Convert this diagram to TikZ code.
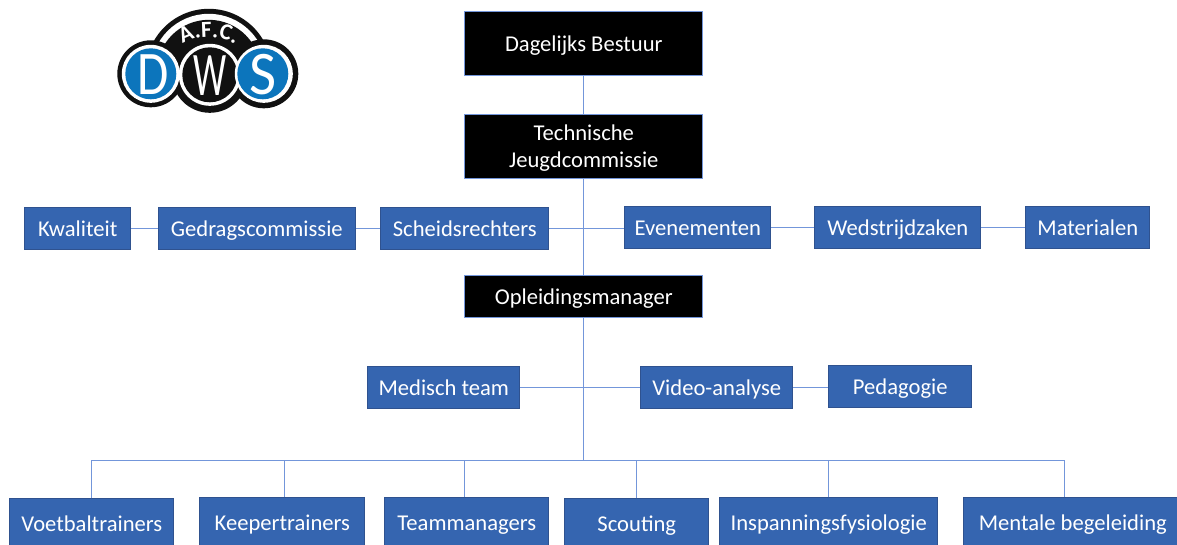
\documentclass[tikz,border=0pt]{standalone}
\usepackage{fontspec}
\setmainfont{Carlito}
\usetikzlibrary{decorations.text}
\definecolor{box-blue}{HTML}{3565B0}
\definecolor{box-edge}{HTML}{2F528F}
\definecolor{link-blue}{HTML}{7396DA}
\definecolor{logo-blue}{HTML}{0C75BC}
\definecolor{logo-black}{HTML}{111111}
\tikzset{
  bluebox/.style={draw=box-edge, line width=1pt, fill=box-blue, text=white, inner sep=0pt, text height=17.5pt, text depth=2.5pt, font=\fontsize{22.6pt}{27pt}\selectfont},
  blackbox/.style={draw=link-blue, line width=1pt, fill=black, text=white, inner sep=0pt, align=center, text height=17.5pt, text depth=2.5pt, font=\fontsize{22.6pt}{27pt}\selectfont},
  link/.style={draw=link-blue, line width=1pt},
  letter/.style={text=white, inner sep=0pt, font=\fontsize{62pt}{62pt}\selectfont}
}

\begin{document}
\begin{tikzpicture}[x=1pt, y=-1pt]
    \useasboundingbox[clip] (0.2, 0.2) rectangle (1177.2, 544.2);

    % logo
    \begin{scope}
      \clip (100, 0) rectangle (320, 72);
      \fill[logo-black] (209, 72) circle (63);
      \fill[white] (209, 72) circle (58);
      \fill[logo-black] (209, 72) circle (52);
    \end{scope}
    \fill[logo-black] (151, 74) circle (33.5);
    \fill[logo-black] (264, 74) circle (34.5);
    \fill[logo-black] (210, 75) circle (38);
    \fill[white] (210, 75) circle (31);
    \fill[logo-black] (210, 75) circle (27.5);
    \fill[white] (151, 74) circle (29);
    \fill[white] (264, 74) circle (29);
    \fill[logo-blue] (151, 74) circle (25.5);
    \fill[logo-blue] (263, 74) circle (25.5);
    \node[letter, xscale=.82] (logoD) at (153, 75) {D};
    \node[letter, xscale=.6] (logoW) at (210, 76) {W};
    \node[letter, xscale=.95] (logoS) at (263, 75) {S};
    \path[postaction={decorate}, decoration={text along path, text align=center,
      text={|\fontsize{23pt}{23pt}\selectfont\bfseries\color{white}|A.F.C.}}]
      (176, 51) .. controls (190, 33) and (228, 33) .. (242, 51);

    % top of the tree
    \node[blackbox, minimum width=238pt, minimum height=64pt] (bestuur) at (584, 44) {Dagelijks Bestuur};
    \node[blackbox, minimum width=238pt, minimum height=64pt, text height=44pt, text depth=2pt] (jeugd) at (584, 147) {Technische\\Jeugdcommissie};
    \node[blackbox, minimum width=238pt, minimum height=42pt] (manager) at (584, 297) {Opleidingsmanager};

    % commissions
    \node[bluebox, minimum width=106pt, minimum height=42pt] (kwaliteit) at (78, 229) {Kwaliteit};
    \node[bluebox, minimum width=197pt, minimum height=42pt] (gedrag) at (257, 229) {Gedragscommissie};
    \node[bluebox, minimum width=168pt, minimum height=42pt] (scheids) at (465, 229) {Scheidsrechters};
    \node[bluebox, minimum width=146pt, minimum height=42pt] (evenement) at (698, 228) {Evenementen};
    \node[bluebox, minimum width=166pt, minimum height=42pt] (wedstrijd) at (898, 228) {Wedstrijdzaken};
    \node[bluebox, minimum width=124pt, minimum height=42pt] (material) at (1088, 228) {Materialen};

    % support
    \node[bluebox, minimum width=152pt, minimum height=42pt] (medisch) at (444, 388) {Medisch team};
    \node[bluebox, minimum width=152pt, minimum height=42pt] (video) at (717, 388) {Video-analyse};
    \node[bluebox, minimum width=143pt, minimum height=42pt] (pedagogie) at (900.5, 387) {Pedagogie};

    % bottom row, runs off the page
    \node[bluebox, minimum width=164pt, minimum height=50pt] (voetbal) at (92, 524) {Voetbaltrainers};
    \node[bluebox, minimum width=165pt, minimum height=50pt] (keeper) at (282.5, 523) {Keepertrainers};
    \node[bluebox, minimum width=164pt, minimum height=50pt] (team) at (467, 523) {Teammanagers};
    \node[bluebox, minimum width=144pt, minimum height=50pt] (scouting) at (637, 524) {Scouting\hspace{5pt}};
    \node[bluebox, minimum width=218pt, minimum height=50pt] (fysio) at (829, 523) {Inspanningsfysiologie};
    \node[bluebox, minimum width=218pt, minimum height=50pt] (mentaal) at (1073, 523) {Mentale begeleiding};

    \coordinate (trunk) at (584, 461);
    \coordinate (busV) at (92, 461);
    \coordinate (busK) at (285, 461);
    \coordinate (busT) at (465, 461);
    \coordinate (busM) at (1065, 461);

    % connectors
    \draw[link] (bestuur) -- (jeugd);
    \draw[link] (jeugd) -- (manager);
    \draw[link] (manager) -- (trunk);
    \draw[link] (kwaliteit) -- (gedrag);
    \draw[link] (gedrag) -- (scheids);
    \draw[link] (scheids.east) -- (scheids.east -| evenement.west);
    \draw[link] (evenement) -- (wedstrijd);
    \draw[link] (wedstrijd) -- (material);
    \draw[link] (medisch) -- (video);
    \draw[link] (video.east) -- (video.east -| pedagogie.west);
    \draw[link] (busV |- voetbal.north) -- (busV) -- (busM) -- (busM |- mentaal.north);
    \draw[link] (busK) -- (busK |- keeper.north);
    \draw[link] (busT) -- (busT |- team.north);
    \draw[link] (scouting.north) -- (scouting.north |- trunk);
    \draw[link] (fysio.north) -- (fysio.north |- trunk);
\end{tikzpicture}
\end{document}
